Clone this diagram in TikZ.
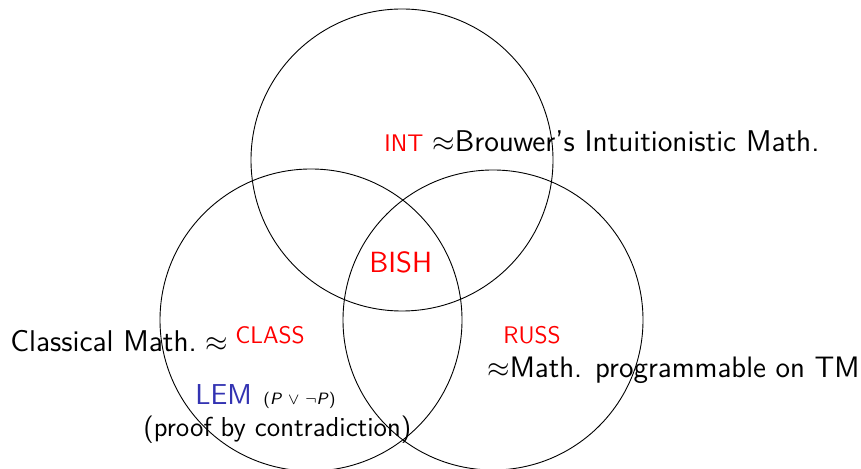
\documentclass[tikz,border=0pt]{standalone}
\usepackage{fontspec}
\definecolor{structblue}{rgb}{0.2,0.2,0.7}
\begin{document}
\begin{tikzpicture}[x=0.5pt,y=-0.5pt,
  set/.style={draw=black,line width=0.45pt},
  lbl/.style={anchor=base west,inner sep=0pt,font=\sffamily\fontsize{15}{18}\selectfont},
  setname/.style={lbl,text=red,font=\sffamily\fontsize{12}{14}\selectfont},
  bigname/.style={lbl,text=red,font=\sffamily\fontsize{14.6}{18}\selectfont}]
  \useasboundingbox (0,0) rectangle (861,469);
  % the three overlapping sets
  \draw[set] (402,160) circle[radius=151];
  \draw[set] (311,320) circle[radius=151];
  \draw[set] (493,320) circle[radius=150];
  % intuitionistic
  \node[setname] (int) at (384,152) {INT};
  \node[lbl] (brouwer) at (432,152) {$\approx$Brouwer's Intuitionistic Math.};
  % common core
  \node[bigname] (bish) at (369,273) {BISH};
  % classical
  \node[lbl] (classical) at (10,352) {Classical Math.\hspace{0.3em}$\approx$};
  \node[setname] (class) at (235,344) {CLASS};
  \node[lbl,text=structblue,font=\sffamily\fontsize{14.4}{17}\selectfont] (lem) at (195,405) {LEM};
  \node[lbl,font=\sffamily\fontsize{8.2}{10}\selectfont] (lemf) at (263,405) {(\textit{P} $\vee$ $\neg$\textit{P})};
  \node[lbl,font=\sffamily\fontsize{13.7}{16}\selectfont] (proof) at (143,437) {(proof by contradiction)};
  % recursive
  \node[setname] (russ) at (503,344) {RUSS};
  \node[lbl,font=\sffamily\fontsize{14.8}{18}\selectfont] (tm) at (487,378) {$\approx$Math. programmable on TM};
\end{tikzpicture}
\end{document}
